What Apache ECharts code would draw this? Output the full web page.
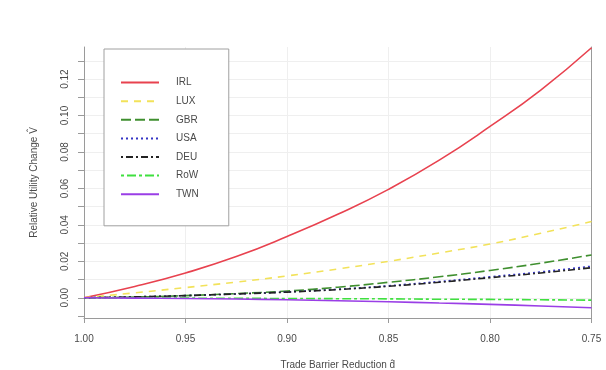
<!DOCTYPE html>
<html>
<head>
<meta charset="utf-8">
<script src="https://cdn.jsdelivr.net/npm/echarts@6/dist/echarts.min.js"></script>
<style>html,body{margin:0;padding:0;background:#fff;}#c{width:606px;height:370px;}</style>
</head>
<body>
<div id="c"></div>
<script>
// x values (trade barrier reduction d-hat)
var xValues = [1.000, 0.975, 0.950, 0.925, 0.900, 0.875, 0.850, 0.825, 0.800, 0.775, 0.750];
var seriesNames = ['IRL', 'LUX', 'GBR', 'USA', 'DEU', 'RoW', 'TWN'];
var IRL = [0, 0.0062, 0.0136, 0.0226, 0.0336, 0.0458, 0.0595, 0.0755, 0.0940, 0.1140, 0.1372];
var LUX = [0, 0.0027, 0.0056, 0.0086, 0.0120, 0.0158, 0.0200, 0.0246, 0.0295, 0.0354, 0.0418];
var GBR = [0, 0.0004, 0.0012, 0.0023, 0.0037, 0.0058, 0.0085, 0.0115, 0.0150, 0.0190, 0.0235];
var USA = [0, 0.0005, 0.0012, 0.0021, 0.0032, 0.0047, 0.0066, 0.0089, 0.0115, 0.0142, 0.0173];
var DEU = [0, 0.0005, 0.0012, 0.0021, 0.0031, 0.0045, 0.0063, 0.0085, 0.0110, 0.0136, 0.0165];
var RoW = [0, -0.0001, -0.0002, -0.0003, -0.0004, -0.0005, -0.0006, -0.0008, -0.0009, -0.0011, -0.0013];
var TWN = [0, -0.0002, -0.0004, -0.0007, -0.0011, -0.0016, -0.0022, -0.0029, -0.0036, -0.0045, -0.0055];
var yTickValues = [-0.01, 0, 0.01, 0.02, 0.03, 0.04, 0.05, 0.06, 0.07, 0.08, 0.09, 0.10, 0.11, 0.12, 0.13];
var yLabelValues = [0, 0.02, 0.04, 0.06, 0.08, 0.10, 0.12];

var seriesData = [IRL, LUX, GBR, USA, DEU, RoW, TWN];
var colors = ['#e8424f', '#f2e25a', '#3f8f2f', '#3434c4', '#222222', '#3fe03f', '#9a3ee6'];
var dashes = ['solid', [7, 6], [10, 4], [2, 3], [2, 3, 7, 3], [3, 3, 9, 3], 'solid'];

var FONT = '"Liberation Sans", Arial, sans-serif';
var TXT = '#4a4a4a';
var AX = '#9a9a9a';

var series = seriesNames.map(function (n, i) {
  return {
    name: n,
    type: 'line',
    smooth: true,
    symbol: 'none',
    clip: true,
    data: xValues.map(function (x, j) { return [x, seriesData[i][j]]; }),
    lineStyle: { color: colors[i], width: 1.6, type: dashes[i] },
    itemStyle: { color: colors[i] },
    z: 3
  };
});
// faint horizontal grid lines at the y tick values
series.push({
  name: '_grid',
  type: 'line',
  data: [],
  silent: true,
  z: 0,
  markLine: {
    silent: true,
    z: 0,
    symbol: 'none',
    label: { show: false },
    lineStyle: { color: '#efefef', width: 1, type: 'solid' },
    data: yTickValues.filter(function (v) { return v >= 0; }).map(function (v) { return { yAxis: v }; })
  }
});

var chart = echarts.init(document.getElementById('c'), null, { renderer: 'canvas' });
chart.setOption({
  animation: false,
  backgroundColor: '#ffffff',
  textStyle: { fontFamily: FONT },
  grid: { left: 84, top: 47, width: 507.5, height: 271, containLabel: false, outerBoundsMode: 'none' },
  legend: {
    data: seriesNames,
    orient: 'vertical',
    left: 104,
    top: 49,
    z: 10,
    padding: [28, 30, 26, 16],
    itemWidth: 38,
    itemHeight: 14,
    itemGap: 7.4,
    borderColor: '#a0a0a0',
    borderWidth: 1,
    backgroundColor: '#ffffff',
    itemStyle: { opacity: 0, borderWidth: 0 },
    textStyle: { fontFamily: FONT, fontSize: 10, color: TXT, padding: [0, 0, 0, 12] },
    selectedMode: false
  },
  xAxis: {
    type: 'value',
    inverse: true,
    min: 0.75,
    max: 1.0,
    interval: 0.05,
    name: 'Trade Barrier Reduction d\u0302',
    nameLocation: 'middle',
    nameGap: 42,
    nameTextStyle: { fontFamily: FONT, fontSize: 10, color: TXT },
    axisLine: { show: true, onZero: false, lineStyle: { color: AX, width: 1 } },
    axisTick: { show: true, length: 5, lineStyle: { color: AX } },
    axisLabel: { fontFamily: FONT, fontSize: 10, color: TXT, margin: 16, formatter: function (v) { return v.toFixed(2); } },
    splitLine: { show: true, lineStyle: { color: '#efefef', width: 1 } }
  },
  yAxis: [{
    type: 'value',
    min: -0.0111,
    max: 0.1376,
    name: 'Relative Utility Change V\u0302',
    nameLocation: 'middle',
    nameGap: 45,
    nameRotate: 90,
    nameTextStyle: { fontFamily: FONT, fontSize: 10, color: TXT },
    axisLine: { show: true, lineStyle: { color: AX, width: 1 } },
    axisTick: { show: true, length: 6, customValues: yTickValues, lineStyle: { color: AX } },
    axisLabel: { fontFamily: FONT, fontSize: 10, color: TXT, rotate: 90, margin: 14, customValues: yLabelValues, formatter: function (v) { return v.toFixed(2); } },
    splitLine: { show: false }
  }, {
    type: 'value',
    position: 'right',
    min: -0.0111,
    max: 0.1376,
    axisLine: { show: true, lineStyle: { color: AX, width: 1 } },
    axisTick: { show: false },
    axisLabel: { show: false },
    splitLine: { show: false }
  }],
  series: series
});
</script>
</body>
</html>
